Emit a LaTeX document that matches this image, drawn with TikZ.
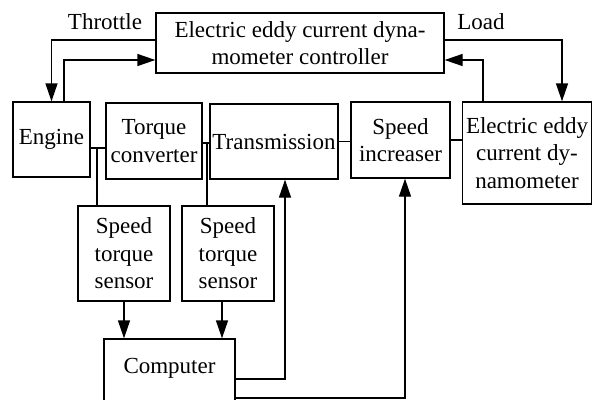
\documentclass[tikz,border=0pt]{standalone}
\usepackage{fontspec}
\setmainfont{Liberation Serif}[Ligatures=TeX]
\usetikzlibrary{arrows.meta,calc}

\begin{document}
\begin{tikzpicture}[x=1pt,y=-1pt,font=\rmfamily\fontsize{23}{27.5}\selectfont,
  box/.style={draw,line width=1.3pt,align=center,inner sep=1pt},
  link/.style={line width=1.3pt},
  arr/.style={line width=1.3pt,-{Triangle[length=18pt,width=12pt]}}]
  \useasboundingbox (0,0) rectangle (593,399);
  % top: controller
  \node[box,minimum width=288pt,minimum height=60pt] (ctrl) at (300,43) {Electric eddy current dyna-\\mometer controller};
  \node (thr) at (105,22) {Throttle};
  \node (load) at (481,22) {Load};
  % drive line
  \node[box,minimum width=77pt,minimum height=75pt] (engine) at (51.5,139.5) {Engine};
  \node[box,minimum width=96pt,minimum height=76pt] (tc) at (154,141) {Torque\\converter};
  \node[box,minimum width=128pt,minimum height=75pt] (trans) at (274,141.5) {Transmission};
  \node[box,minimum width=99pt,minimum height=76pt] (inc) at (400.5,140) {Speed\\increaser};
  \node[box,minimum width=129pt,minimum height=102pt] (dyn) at (527,153) {Electric eddy\\current dy-\\namometer};
  % sensors and computer
  \node[box,minimum width=92pt,minimum height=95pt] (s1) at (124,253.5) {Speed\\torque\\sensor};
  \node[box,minimum width=92pt,minimum height=95pt] (s2) at (228,253.5) {Speed\\torque\\sensor};
  \node[box,minimum width=131pt,minimum height=80pt,label={[yshift=11pt]center:Computer}] (comp) at (169.5,379) {};
  % loops to the controller
  \draw[arr] ($(ctrl.west)+(0,-3)$) -| (engine.north);
  \draw[arr] ($(engine.north)+(12.5,0)$) |- ($(ctrl.west)+(0,17)$);
  \draw[arr] ($(ctrl.east)+(0,-3)$) -| ($(dyn.north)+(35,0)$);
  \draw[arr] ($(dyn.north)+(-44,0)$) |- ($(ctrl.east)+(0,17)$);
  % shafts
  \coordinate (j1) at (97,148);
  \coordinate (j2) at (207,143);
  \draw[link] (engine.east |- j1) -- (tc.west |- j1);
  \draw[link] (j1) -- (j1 |- s1.north);
  \draw[link] (tc.east |- j2) -- (trans.west |- j2);
  \draw[link] (j2) -- (j2 |- s2.north);
  \draw[link] (trans.east) -- (trans.east -| inc.west);
  \draw[link] (inc.east) -- (inc.east -| dyn.west);
  % signals
  \coordinate (s2out) at ($(s2.south)+(-6,0)$);
  \draw[arr] (s1.south) -- (s1.south |- comp.north);
  \draw[arr] (s2out) -- (s2out |- comp.north);
  \draw[arr] (comp.east) -| ($(trans.south)+(11,0)$);
  \draw[arr] ($(comp.east)+(0,19)$) -| ($(inc.south)+(4.5,0)$);
\end{tikzpicture}
\end{document}
